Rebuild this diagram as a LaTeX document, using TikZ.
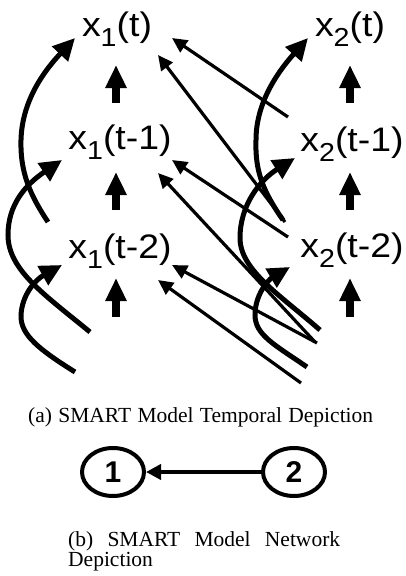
\documentclass[tikz,border=0pt]{standalone}
\usepackage{fontspec}
\setmainfont{Liberation Serif}
\newfontfamily\arialfont{Liberation Sans}
\usetikzlibrary{arrows.meta,shapes.geometric}
\newcommand{\sbx}[1]{\raisebox{-10pt}{\fontsize{26}{26}\selectfont #1}}
\newcommand{\wide}[1]{\scalebox{1.1}[1]{#1}}
\begin{document}
\begin{tikzpicture}[x=1pt,y=-1pt,
  lbl/.style={anchor=base, inner sep=0pt, font=\arialfont\fontsize{34}{34}\selectfont},
  fatarrow/.style={line width=8pt, -{Triangle[length=23pt,width=20pt]}},
  curvarrow/.style={line width=5pt, -{Triangle[length=22pt,width=21pt]}},
  thinarrow/.style={line width=3.2pt, -{Triangle[length=15pt,width=14pt]}},
  circ/.style={draw, line width=4pt, ellipse, minimum width=62pt, minimum height=48pt, inner sep=0pt,
     font=\arialfont\bfseries\fontsize{30}{30}\selectfont},
  netarrow/.style={line width=4pt, -{Triangle[length=15pt,width=15pt]}},
  captext/.style={inner sep=0pt, font=\fontsize{21.5}{21.5}\selectfont}]
\useasboundingbox (0,0) rectangle (406,576);
% variable nodes
\node[lbl] (x1t)  at (117,36)  {\wide{x\sbx{1}(t)}};
\node[lbl] (x1t1) at (120,149) {\wide{x\sbx{1}(t-1)}};
\node[lbl] (x1t2) at (120,258) {\wide{x\sbx{1}(t-2)}};
\node[lbl] (x2t)  at (350,36)  {\wide{x\sbx{2}(t)}};
\node[lbl] (x2t1) at (352,151) {\wide{x\sbx{2}(t-1)}};
\node[lbl] (x2t2) at (352,257) {\wide{x\sbx{2}(t-2)}};
% vertical self arrows
\coordinate (v1a) at (116,103); \coordinate (v1b) at (116,65);
\coordinate (v2a) at (116,210); \coordinate (v2b) at (116,172);
\coordinate (v3a) at (116,317); \coordinate (v3b) at (116,278);
\coordinate (w1a) at (350,103); \coordinate (w1b) at (350,65);
\coordinate (w2a) at (350,210); \coordinate (w2b) at (350,172);
\coordinate (w3a) at (350,317); \coordinate (w3b) at (350,278);
\foreach \a/\b in {v1a/v1b,v2a/v2b,v3a/v3b,w1a/w1b,w2a/w2b,w3a/w3b}
  \draw[fatarrow] (\a) -- (\b);
% curved arrows left
\coordinate (l1s) at (48,222); \coordinate (l1e) at (75,38);
\coordinate (l2s) at (90,332); \coordinate (l2e) at (62,160);
\coordinate (l3s) at (75,372); \coordinate (l3e) at (62,265);
\draw[curvarrow] (l1s) .. controls (30,195) and (20,172) .. (21,140) .. controls (22,100) and (45,70) .. (l1e);
\draw[curvarrow] (l2s) .. controls (45,295) and (8,270) .. (8,235) .. controls (8,205) and (25,185) .. (l2e);
\draw[curvarrow] (l3s) .. controls (40,350) and (20,335) .. (21,315) .. controls (22,295) and (35,280) .. (l3e);
% curved arrows right
\coordinate (r1s) at (283,220); \coordinate (r1e) at (308,38);
\coordinate (r2s) at (320,330); \coordinate (r2e) at (295,158);
\coordinate (r3s) at (307,367); \coordinate (r3e) at (290,267);
\draw[curvarrow] (r1s) .. controls (262,190) and (255,170) .. (256,140) .. controls (256,105) and (275,75) .. (r1e);
\draw[curvarrow] (r2s) .. controls (280,295) and (240,270) .. (240,238) .. controls (240,205) and (260,180) .. (r2e);
\draw[curvarrow] (r3s) .. controls (275,345) and (255,335) .. (255,315) .. controls (255,295) and (268,280) .. (r3e);
% thin cross arrows
\coordinate (a1s) at (288,117); \coordinate (a1e) at (172,38);
\coordinate (a2s) at (285,222); \coordinate (a2e) at (158,55);
\coordinate (a3s) at (288,237); \coordinate (a3e) at (172,160);
\coordinate (a4s) at (315,342); \coordinate (a4e) at (158,173);
\coordinate (a5s) at (317,343); \coordinate (a5e) at (172,265);
\coordinate (a6s) at (301,383); \coordinate (a6e) at (158,280);
\foreach \a/\b in {a1s/a1e,a2s/a2e,a3s/a3e,a4s/a4e,a5s/a5e,a6s/a6e}
  \draw[thinarrow] (\a) -- (\b);
% caption a
\node[captext, anchor=base west] (capa) at (28,422) {\makebox[345pt][s]{(a) SMART Model Temporal Depiction}};
% network
\node[circ] (n1) at (113,472) {1};
\node[circ] (n2) at (294,472) {2};
\draw[netarrow] (n2) -- (n1);
% caption b
\node[captext, anchor=base west] (capb1) at (68,546) {\makebox[272pt][s]{(b) SMART Model Network}};
\node[captext, anchor=base west] (capb2) at (68,566) {Depiction};
\end{tikzpicture}
\end{document}
